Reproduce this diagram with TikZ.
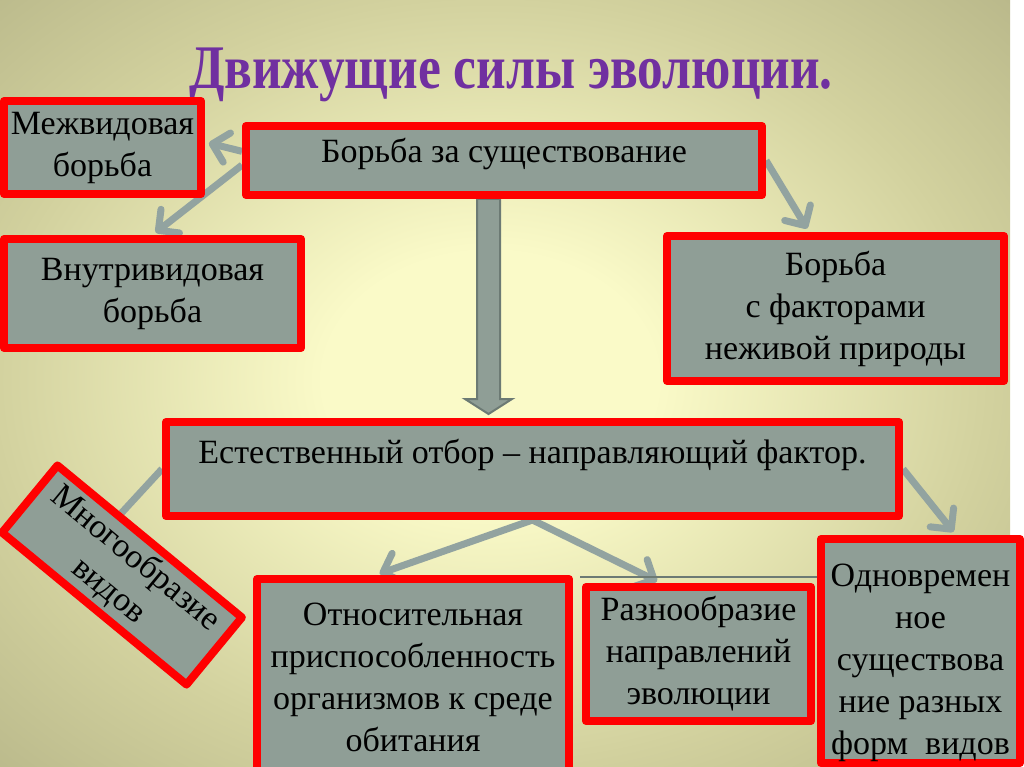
\documentclass[tikz,border=0pt]{standalone}
\usepackage{fontspec}
\usepackage{graphicx}
\setmainfont{Liberation Serif}
\usetikzlibrary{arrows.meta}

\definecolor{boxgray}{RGB}{143,158,150}
\definecolor{linkgray}{RGB}{146,163,160}
\definecolor{edgegray}{RGB}{108,122,116}
\definecolor{titlepurple}{RGB}{112,48,160}
\definecolor{bgin}{RGB}{250,250,200}
\definecolor{bgmid}{RGB}{210,209,158}
\definecolor{bgout}{RGB}{162,161,120}
\definecolor{bgcorner}{RGB}{138,138,102}
\pgfdeclareradialshading{glow}{\pgfpoint{0bp}{0bp}}{color(0bp)=(bgin); color(8bp)=(bgin); color(24bp)=(bgmid); color(45bp)=(bgout); color(72bp)=(bgcorner)}
\pgfdeclarelayer{bg}
\pgfdeclarelayer{links}
\pgfsetlayers{bg,links,main}

\begin{document}
\begin{tikzpicture}[
  x=1pt, y=-1pt,
  box/.style={draw=red, line width=8pt, line join=round, fill=boxgray, align=center,
    inner sep=0pt, font=\fontsize{34}{42}\selectfont},
  flowline/.style={draw=linkgray, line width=7pt},
  flow/.style={flowline, -{Straight Barb[length=15pt,width=30pt,round]}, shorten >=4pt},
  bigflow/.style={draw=edgegray, line width=2pt, fill=boxgray}
]
  \useasboundingbox (0,0) rectangle (1024,767);
  \begin{pgfonlayer}{bg}
    \shade[shading=glow] (-30,-20) rectangle (1010,780);
  \end{pgfonlayer}

  % Заголовок
  \node[anchor=base, text=titlepurple, font=\fontsize{62}{64}\selectfont\bfseries] (heading) at (511,89)
    {\scalebox{0.83}[1]{Движущие силы эволюции.}};

  % Блоки
  \node[box, minimum width=197pt, minimum height=93pt] (mezh) at (102.5,147.5) {Межвидовая\\борьба};
  \node[box, minimum width=516pt, minimum height=69pt, text height=24pt, text depth=19pt] (bzs) at (504,160.5) {Борьба за существование};
  \node[box, minimum width=297pt, minimum height=109pt] (vnutri) at (152.5,293.5) {Внутривидовая\\борьба};
  \node[box, minimum width=337pt, minimum height=145pt] (abio) at (835.5,308.5) {Борьба\\с факторами\\неживой природы};
  \node[box, minimum width=733pt, minimum height=94pt, text height=24pt, text depth=36pt] (estotbor) at (532.5,469) {Естественный отбор – направляющий фактор.};
  \node[box, minimum width=239pt, minimum height=87pt, rotate=-39.5] (mnogo) at (122,575) {Многообразие\\видов};
  \node[box, minimum width=312pt, minimum height=196pt] (otnos) at (413,677) {Относительная\\приспособленность\\организмов к среде\\обитания};
  \node[box, minimum width=225pt, minimum height=134pt] (razno) at (698.5,654) {Разнообразие\\направлений\\эволюции};
  \node[box, minimum width=199pt, minimum height=224pt] (odnovr) at (920.5,651) {\rule{0pt}{46pt}Одновремен\\ное\\существова\\ние разных\\форм\ \ видов};

  % Стрелки
  \begin{pgfonlayer}{links}
    \draw[flow] (bzs.178) -- (mezh.3); \draw[flow] (bzs.181) -- (vnutri.north);
    \draw[flow] (bzs.east) -- (abio.109);
    \path (bzs.south) ++(-15.5,0) coordinate (shafttop);
    \path (estotbor.north) ++(-44,-4) coordinate (shaftend);
    \draw[bigflow] ([xshift=-11.5pt]shafttop) -- ([xshift=-11.5pt,yshift=15pt]shaftend)
      -- ([xshift=-23.5pt,yshift=15pt]shaftend) -- (shaftend)
      -- ([xshift=23.5pt,yshift=15pt]shaftend) -- ([xshift=11.5pt,yshift=15pt]shaftend)
      -- ([xshift=11.5pt]shafttop) -- cycle;
    \draw[flowline] (estotbor.west) -- (mnogo.130);
    \draw[flow] (estotbor.south) -- (otnos.110); \draw[flow] (estotbor.south) -- (razno.118);
    \draw[flow] (estotbor.east) -- (odnovr.73);
    \draw[edgegray, line width=2.5pt] ([xshift=-2pt,yshift=6pt]razno.north west) -- ([xshift=2pt,yshift=6pt]razno.north east);
  \end{pgfonlayer}
\end{tikzpicture}
\end{document}
